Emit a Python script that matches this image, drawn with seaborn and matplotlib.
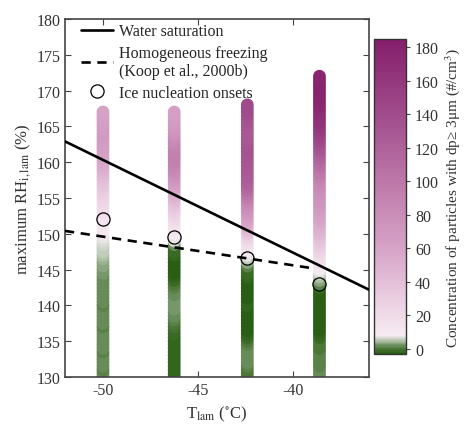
import numpy as np
import pandas as pd
import seaborn as sns
import matplotlib.pyplot as plt
from matplotlib.colors import LinearSegmentedColormap, Normalize
from matplotlib.lines import Line2D
import matplotlib.cm as cm

# column temperatures (deg C)
col_T = [-50.0, -46.25, -42.4, -38.6]

# RH_i values along each column (%), and the particle concentration (#/cm3) at each one
rh_1 = [130, 130.5, 131, 131.5, 132, 132.5, 133, 133.5, 134, 134.5, 135, 135.5, 136, 136.5, 137, 137.5,
        138, 138.5, 139, 139.5, 140, 140.5, 141, 141.5, 142, 142.5, 143, 143.5, 144, 144.5, 145, 145.5,
        146, 146.5, 147, 147.5, 148, 148.5, 149, 149.5, 150, 150.5, 151, 151.5, 152, 152.5, 153, 153.5,
        154, 154.5, 155, 155.5, 156, 156.5, 157, 157.5, 158, 158.5, 159, 159.5, 160, 160.5, 161, 161.5,
        162, 162.5, 163, 163.5, 164, 164.5, 165, 165.5, 166, 166.5, 167]
conc_1 = [1.5, 1.5, 1.2, 1.5, 1.8, 1.5, 1.5, 1.2, 1.5, 1.5, 1.8, 1.5, 1.5, 1.5, 1.2, 1.5,
          1.8, 1.5, 1.5, 1.5, 1.2, 1.5, 1.5, 1.8, 1.5, 1.5, 1.5, 1.8, 2, 2.2, 2.6, 3,
          3.5, 4, 4.6, 5.2, 5.8, 6.4, 7, 8, 9, 10, 11, 12, 13, 14.5, 16, 18,
          20, 22.5, 25, 27.5, 30, 33, 36, 39, 42, 46, 50, 53, 56, 58, 60, 62,
          64, 65, 66, 67, 68, 67, 66, 65, 64, 63, 62]

rh_2 = rh_1
conc_2 = [-2, -2, -2, -2.2, -2, -2, -1.8, -2, -2, -2, -2, -1.8, -1.5, -1, -0.5, 0.2,
          1, 1.5, 2, 2.3, 2.5, 2.5, 2.2, 2, 1.5, 1, 0, -1, -2, -2.5, -2.5, -2.5,
          -2.5, -2.3, -2, -1.5, -1, 2, 6, 8, 10, 12, 14, 17, 20, 24, 28, 32,
          36, 41, 46, 51, 56, 61, 66, 71, 76, 80, 84, 87, 90, 91, 92, 91,
          90, 87, 84, 80, 76, 73, 70, 68, 66, 65, 64]

rh_3 = rh_1 + [167.5, 168]
conc_3 = [0, 0.2, 0.5, 1, 1.5, 1.8, 2, 2, 1.5, 0.8, 0, -1, -2, -2.3, -2.5, -2.5,
          -2.5, -2.5, -2.5, -2.3, -2, -2.2, -2.5, -2.5, -2.5, -2.5, -2.5, -2.3, -2, -1.5, -1, 1,
          3, 5.5, 8, 10, 12, 16, 20, 27, 35, 42, 50, 56, 62, 67, 72, 77,
          82, 88, 95, 102, 110, 115, 120, 122, 125, 126, 128, 129, 130, 131, 132, 133,
          134, 132, 130, 129, 128, 129, 130, 132, 135, 137, 140, 141, 142]

rh_4 = rh_1 + [167.5, 168, 168.5, 169, 169.5, 170, 170.5, 171, 171.5, 172]
conc_4 = [1.5, 1.5, 1.5, 1.2, 1, 1, 1, 0.8, 0.5, 0.2, 0, -1, -2, -2.5, -3, -3,
          -3, -3, -3, -3, -3, -3, -3, -3, -2.5, -1, 1, 3, 5, 7, 9, 11.5,
          14, 17, 20, 24, 28, 32, 36, 40, 44, 48, 52, 55, 58, 61, 64, 67,
          70, 72, 74, 76, 78, 81, 84, 88, 92, 97, 102, 107, 112, 117, 122, 127,
          132, 137, 142, 147, 152, 156, 160, 163, 166, 168, 170, 172, 175, 177, 178, 179,
          180, 180, 180, 179, 178]

# water saturation and homogeneous freezing lines
ws_T = [-52, -36]
ws_RH = [162.9, 142.2]
hf_T = [-52, -39.0]
hf_RH = [150.4, 145.2]

# ice nucleation onsets
onset_T = [-50.0, -46.25, -42.4, -38.6]
onset_RH = [152.0, 149.6, 146.6, 143.0]

cbar_ticks = [0, 20, 40, 60, 80, 100, 120, 140, 160, 180]

sns.set_style('ticks')
plt.rcParams['font.family'] = ['Liberation Serif', 'DejaVu Serif']
plt.rcParams['mathtext.fontset'] = 'stix'
plt.rcParams['axes.unicode_minus'] = False
plt.rcParams['font.size'] = 11.5

# build one table from the column lists
frames = []
for T, rh, c in zip(col_T, [rh_1, rh_2, rh_3, rh_4], [conc_1, conc_2, conc_3, conc_4]):
    frames.append(pd.DataFrame({'T': T, 'RH': rh, 'conc': c}))
df = pd.concat(frames, ignore_index=True)

# green -> white -> purple colormap, stretched over vmin..vmax
vmin, vmax = -3, 185
nodes = [(-3, (0.16, 0.37, 0.08)), (0, (0.30, 0.47, 0.22)), (2, (0.45, 0.58, 0.40)),
         (5, (0.75, 0.80, 0.72)), (8, (0.96, 0.92, 0.95)), (20, (0.94, 0.86, 0.91)),
         (60, (0.84, 0.64, 0.78)), (100, (0.74, 0.47, 0.66)), (140, (0.63, 0.30, 0.55)),
         (185, (0.52, 0.12, 0.42))]
cmap = LinearSegmentedColormap.from_list('gp', [((v - vmin) / (vmax - vmin), c) for v, c in nodes])
norm = Normalize(vmin, vmax)

fig = plt.figure(figsize=(4.66, 4.31), dpi=100)
ax = fig.add_axes([0.1395, 0.123, 0.652, 0.8307])

sns.scatterplot(data=df, x='T', y='RH', hue='conc', palette=cmap, hue_norm=norm,
                s=85, linewidth=0, legend=False, ax=ax, zorder=2)

ax.plot(ws_T, ws_RH, color='black', lw=1.9, zorder=3)
ax.plot(hf_T, hf_RH, color='black', lw=1.9, ls=(0, (3.5, 2.5)), zorder=3)
ax.plot(onset_T, onset_RH, ls='none', marker='o', ms=9.5, mfc='none', mec='black', mew=0.9, zorder=4)

ax.set_xlim(-52, -36)
ax.set_ylim(130, 180)
ax.set_xticks([-50, -45, -40])
ax.set_yticks([130, 135, 140, 145, 150, 155, 160, 165, 170, 175, 180])
ax.tick_params(direction='in', top=True, right=True, length=4, color='#444444',
               labelcolor='#333333', labelsize=11.5)
for sp in ax.spines.values():
    sp.set_color('#444444')
    sp.set_linewidth(1.2)
ax.set_xlabel(r'T$_{\mathrm{lam}}$ ($^{\circ}$C)', fontsize=12, color='#333333')
ax.set_ylabel(r'maximum RH$_{\mathrm{i,lam}}$ (%)', fontsize=12, color='#333333', labelpad=2)

handles = [Line2D([], [], color='black', lw=1.9),
           Line2D([], [], color='black', lw=1.9, ls=(0, (3.5, 2.5))),
           Line2D([], [], ls='none', marker='o', ms=9.5, mfc='none', mec='black', mew=0.9)]
labels = ['Water saturation', 'Homogeneous freezing\n(Koop et al., 2000b)', 'Ice nucleation onsets']
ax.legend(handles, labels, loc='upper left', frameon=False, bbox_to_anchor=(0.02, 1.015),
          handlelength=2.0, handletextpad=0.4, labelspacing=0.35, borderaxespad=0.2, fontsize=11.5)

cax = fig.add_axes([0.8026, 0.1763, 0.0687, 0.7309])
sm = cm.ScalarMappable(norm=norm, cmap=cmap)
cb = fig.colorbar(sm, cax=cax, ticks=cbar_ticks)
cb.outline.set_edgecolor('#333333')
cb.outline.set_linewidth(1.0)
cax.tick_params(direction='out', length=3, color='#444444', labelcolor='#333333', labelsize=11.5)
cb.set_label('Concentration of particles with dp≥ 3μm (#/cm$^3$)',
             fontsize=11, color='#333333', labelpad=3)

fig.savefig('out.png', dpi=100)
